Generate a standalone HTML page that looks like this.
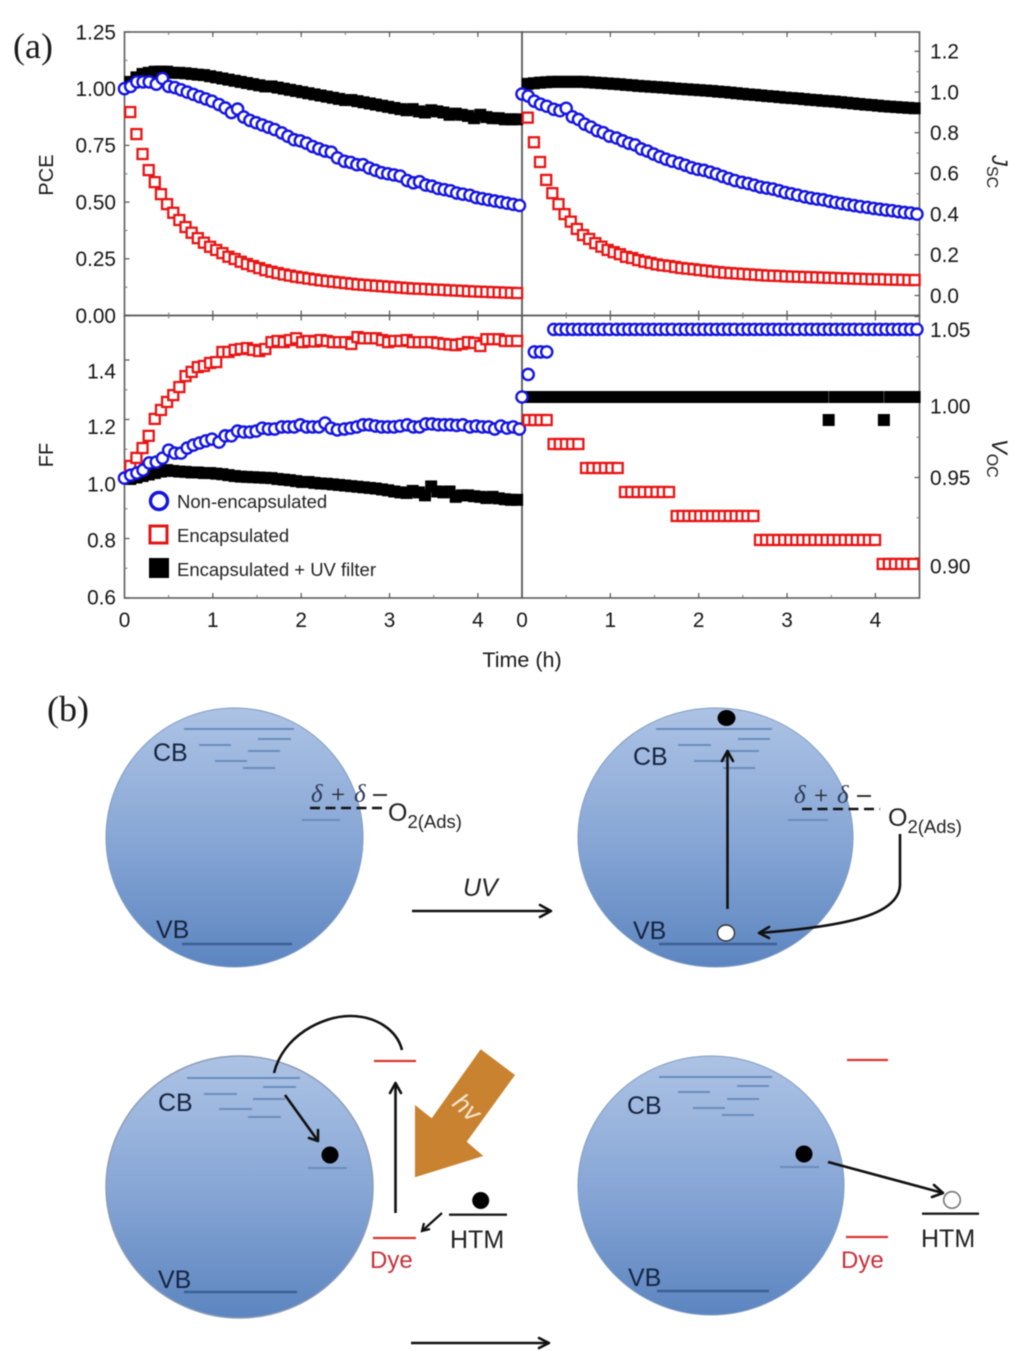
<!DOCTYPE html>
<html lang="en">
<head>
<meta charset="utf-8">
<title>Perovskite solar cell stability and UV degradation mechanism</title>
<style>
  html, body { margin: 0; padding: 0; background: #fff; }
  #figure { display: block; width: 1024px; height: 1359px; filter: blur(0.55px); font-family: "Liberation Sans", sans-serif; }
  .tick-label { font-size: 20.8px; fill: #161616; }
  .axis-title { font-size: 20px; fill: #1a1a1a; }
  .legend-text { font-size: 18.5px; fill: #222; }
  .band { font-size: 25px; fill: #16243f; }
  .delta { font-family: "Liberation Serif", serif; font-size: 25px; fill: #2a3a55; font-style: italic; }
  .sign { font-family: "Liberation Serif", serif; font-size: 25px; fill: #222; }
  .level { stroke: #6a8dbd; stroke-width: 2; }
  .vb-level { stroke: #3d5f95; stroke-width: 2.4; }
  .red-level { stroke: #d9352c; stroke-width: 2.2; }
  .htm-level { stroke: #1c1c1c; stroke-width: 2.4; }
  .arrow { stroke: #111; stroke-width: 2.6; fill: none; }
  .head { stroke: #111; stroke-width: 2.6; fill: none; stroke-linecap: round; stroke-linejoin: round; }
</style>
</head>
<body>
<svg id="figure" xmlns="http://www.w3.org/2000/svg" width="1024" height="1359" viewBox="0 0 1024 1359">
  <defs>
    <linearGradient id="sphere" x1="0" y1="0" x2="0" y2="1">
      <stop offset="0" stop-color="#adc3e5"/>
      <stop offset="0.5" stop-color="#88a7d6"/>
      <stop offset="1" stop-color="#5c85c0"/>
    </linearGradient>
  </defs>
  <rect x="0" y="0" width="1024" height="1359" fill="#fff"/>

  <text x="13" y="58" font-family="Liberation Serif, serif" font-size="36" fill="#1a1a1a">(a)</text>
  <g id="chart"></g>

  <text class="axis-title" transform="translate(53,175) rotate(-90)" text-anchor="middle">PCE</text>
  <text class="axis-title" transform="translate(53,455) rotate(-90)" text-anchor="middle">FF</text>
  <text transform="translate(992,155) rotate(90)" font-size="22" fill="#1a1a1a"><tspan font-style="italic">J</tspan><tspan font-size="16" dy="5">SC</tspan></text>
  <text transform="translate(992,439) rotate(90)" font-size="22" fill="#1a1a1a"><tspan font-style="italic">V</tspan><tspan font-size="16" dy="5">OC</tspan></text>
  <text x="522" y="667" font-size="21.5" fill="#1a1a1a" text-anchor="middle">Time (h)</text>

  <g>
    <circle cx="159" cy="501" r="8.5" fill="#fff" stroke="#1414e0" stroke-width="3.4"/>
    <text class="legend-text" x="177" y="508">Non-encapsulated</text>
    <rect x="150" y="526" width="17" height="17" fill="#fff" stroke="#e01818" stroke-width="3"/>
    <text class="legend-text" x="177" y="542">Encapsulated</text>
    <rect x="149" y="558" width="20" height="20" fill="#000"/>
    <text class="legend-text" x="177" y="576">Encapsulated + UV filter</text>
  </g>

  <text x="47" y="721" font-family="Liberation Serif, serif" font-size="36" fill="#1a1a1a">(b)</text>

  <g>
    <ellipse cx="234.5" cy="837.5" rx="128.5" ry="129.5" fill="url(#sphere)" stroke="#7f9cc4" stroke-width="1"/>
    <g>
      <line class="level" x1="184" x2="294" y1="729" y2="729"/><line class="level" x1="258" x2="291" y1="739" y2="739"/>
      <line class="level" x1="199" x2="231" y1="745" y2="745"/><line class="level" x1="248" x2="280" y1="751" y2="751"/>
      <line class="level" x1="215" x2="247" y1="761" y2="761"/><line class="level" x1="243" x2="275" y1="768" y2="768"/>
      <line class="level" x1="302" x2="340" y1="820" y2="820"/>
    </g>
    <line class="vb-level" x1="182" x2="292" y1="944" y2="944"/>
    <text class="band" x="153" y="761">CB</text>
    <text class="band" x="156" y="938">VB</text>
    <text class="delta" x="311" y="802">δ</text>
    <text class="sign" x="331" y="803">+</text>
    <text class="delta" x="354" y="802">δ</text>
    <line x1="373" x2="387" y1="795" y2="795" stroke="#222" stroke-width="1.8"/>
    <line x1="310" x2="382" y1="808" y2="808" stroke="#111" stroke-width="2.4" stroke-dasharray="10 5.5"/>
    <text x="388" y="821" font-size="25" fill="#222">O<tspan font-size="18.5" dy="7">2(Ads)</tspan></text>
  </g>

  <text x="463" y="896" font-size="25" font-style="italic" fill="#222">UV</text>
  <g>
    <line class="arrow" x1="412" x2="551" y1="911" y2="911"/>
    <path class="head" d="M540 905 L551 911 L540 917"/>
  </g>

  <g>
    <ellipse cx="715.5" cy="837.5" rx="137.5" ry="129.5" fill="url(#sphere)" stroke="#7f9cc4" stroke-width="1"/>
    <g>
      <line class="level" x1="656" x2="772" y1="729" y2="729"/><line class="level" x1="738" x2="770" y1="739" y2="739"/>
      <line class="level" x1="678" x2="711" y1="745" y2="745"/><line class="level" x1="727" x2="759" y1="751" y2="751"/>
      <line class="level" x1="694" x2="727" y1="761" y2="761"/><line class="level" x1="723" x2="755" y1="768" y2="768"/>
      <line class="level" x1="788" x2="828" y1="820" y2="820"/>
    </g>
    <line class="vb-level" x1="659" x2="777" y1="944" y2="944"/>
    <text class="band" x="633" y="765">CB</text>
    <text class="band" x="633" y="939">VB</text>
    <ellipse cx="726.5" cy="718" rx="9" ry="8" fill="#000"/>
    <ellipse cx="726" cy="933" rx="8.5" ry="8" fill="#fff" stroke="#333" stroke-width="1.4"/>
    <g>
      <line class="arrow" x1="727.5" x2="727.5" y1="909" y2="751"/>
      <path class="head" d="M722 761 L727.5 751 L733 761"/>
    </g>
    <g>
      <path class="arrow" d="M900 834 L900 885 C899 914 850 926 759 933"/>
      <path class="head" d="M769 927 L759 933 L769 938"/>
    </g>
    <text class="delta" x="794" y="803">δ</text>
    <text class="sign" x="814" y="804">+</text>
    <text class="delta" x="837" y="803">δ</text>
    <line x1="857" x2="871" y1="796" y2="796" stroke="#222" stroke-width="1.8"/>
    <line x1="802" x2="880" y1="809" y2="809" stroke="#111" stroke-width="2.4" stroke-dasharray="10 5.5"/>
    <text x="888" y="826" font-size="25" fill="#222">O<tspan font-size="18.5" dy="7">2(Ads)</tspan></text>
  </g>

  <g>
    <ellipse cx="239.5" cy="1187" rx="133.5" ry="131" fill="url(#sphere)" stroke="#8c9cb4" stroke-width="1.4"/>
    <g>
      <line class="level" x1="187" x2="300" y1="1078" y2="1078"/><line class="level" x1="263" x2="296" y1="1087" y2="1087"/>
      <line class="level" x1="204" x2="237" y1="1094" y2="1094"/><line class="level" x1="253" x2="285" y1="1099" y2="1099"/>
      <line class="level" x1="219" x2="252" y1="1109" y2="1109"/><line class="level" x1="248" x2="281" y1="1117" y2="1117"/>
      <line class="level" x1="308" x2="347" y1="1168" y2="1168"/>
    </g>
    <line class="vb-level" x1="184" x2="297" y1="1292" y2="1292"/>
    <text class="band" x="158" y="1111">CB</text>
    <text class="band" x="158" y="1288">VB</text>
    <circle cx="330" cy="1155" r="8.5" fill="#000"/>
    <g>
      <line class="arrow" x1="285" x2="318" y1="1095" y2="1141"/>
      <path class="head" d="M309 1138 L318 1141 L318 1130"/>
    </g>
    <path class="arrow" d="M274 1073 C283 1036 322 1016 350 1016 C376 1016 397 1030 402 1050"/>
    <line class="red-level" x1="374" x2="416" y1="1061" y2="1061"/>
    <line class="red-level" x1="373" x2="416" y1="1238" y2="1238"/>
    <g>
      <line class="arrow" x1="395.5" x2="395.5" y1="1213" y2="1083"/>
      <path class="head" d="M390 1093 L395.5 1083 L401 1093"/>
    </g>
    <polygon points="480.7,1049.3 515,1075 466.7,1141.7 483.3,1156 415,1177.3 415,1105 431.7,1118.3" fill="#c9822f"/>
    <text transform="translate(451,1105) rotate(42)" font-size="26" font-style="italic" fill="#f6e7cd">hv</text>
    <circle cx="480.7" cy="1200.5" r="8.5" fill="#000"/>
    <line class="htm-level" x1="449" x2="507" y1="1214.7" y2="1214.7"/>
    <text x="450" y="1248" font-size="25" fill="#222">HTM</text>
    <g>
      <line x1="442" x2="422" y1="1213" y2="1231" stroke="#111" stroke-width="2.2"/>
      <path d="M430 1229 L422 1231 L424 1223" stroke="#111" stroke-width="2.2" fill="none"/>
    </g>
    <text x="370" y="1268" font-size="24" fill="#c9303a">Dye</text>
  </g>

  <g>
    <line class="arrow" x1="411" x2="549" y1="1343" y2="1343"/>
    <path class="head" d="M539 1338 L549 1343 L539 1348"/>
  </g>

  <g>
    <ellipse cx="711" cy="1185.5" rx="133" ry="129.5" fill="url(#sphere)" stroke="#7f9cc4" stroke-width="1"/>
    <g>
      <line class="level" x1="659" x2="772" y1="1077" y2="1077"/><line class="level" x1="737" x2="769" y1="1086" y2="1086"/>
      <line class="level" x1="678" x2="710" y1="1092" y2="1092"/><line class="level" x1="727" x2="759" y1="1099" y2="1099"/>
      <line class="level" x1="693" x2="725" y1="1108" y2="1108"/><line class="level" x1="722" x2="754" y1="1115" y2="1115"/>
      <line class="level" x1="780" x2="819" y1="1167" y2="1167"/>
    </g>
    <line class="vb-level" x1="657" x2="769" y1="1291" y2="1291"/>
    <text class="band" x="627" y="1114">CB</text>
    <text class="band" x="628" y="1286">VB</text>
    <circle cx="804" cy="1154" r="8.5" fill="#000"/>
    <g>
      <line class="arrow" x1="828" x2="943" y1="1162" y2="1193"/>
      <path class="head" d="M934 1185 L943 1193 L932 1197"/>
    </g>
    <circle cx="952" cy="1200" r="8.3" fill="#fff" stroke="#777" stroke-width="1.6"/>
    <line class="htm-level" x1="922" x2="979" y1="1213.7" y2="1213.7"/>
    <text x="921" y="1247" font-size="25" fill="#222">HTM</text>
    <line class="red-level" x1="847" x2="888" y1="1060" y2="1060"/>
    <line class="red-level" x1="846" x2="888" y1="1237" y2="1237"/>
    <text x="841" y="1268" font-size="24" fill="#c9303a">Dye</text>
  </g>
</svg>

<script>
const blueHours = [0,.07,.14,.21,.28,.36,.43,.50,.57,.64,.71,.78,.85,.92,.99,1.07,1.14,1.21,1.28,1.35,1.42,1.49,1.56,1.63,1.70,1.78,1.85,1.92,1.99,2.06,2.13,2.20,2.27,2.34,2.41,2.49,2.56,2.63,2.70,2.77,2.84,2.91,2.98,3.05,3.12,3.20,3.27,3.34,3.41,3.48,3.55,3.62,3.69,3.76,3.83,3.91,3.98,4.05,4.12,4.19,4.26,4.33,4.40,4.47];
const filmHours = [.065,.135,.204,.274,.343,.413,.482,.552,.621,.691,.76,.83,.899,.969,1.038,1.108,1.177,1.247,1.316,1.386,1.455,1.525,1.594,1.664,1.733,1.803,1.872,1.942,2.011,2.081,2.15,2.22,2.289,2.359,2.428,2.498,2.567,2.637,2.706,2.776,2.845,2.915,2.984,3.054,3.123,3.193,3.262,3.332,3.401,3.471,3.54,3.61,3.679,3.749,3.818,3.888,3.957,4.027,4.096,4.166,4.235,4.305,4.374,4.444];
const vocFilmHours = [.072,.141,.21,.279,.358,.428,.498,.568,.638,.725,.797,.868,.94,1.011,1.083,1.166,1.237,1.308,1.379,1.451,1.522,1.593,1.664,1.751,1.818,1.885,1.951,2.018,2.085,2.152,2.218,2.285,2.352,2.419,2.485,2.552,2.619,2.694,2.763,2.831,2.9,2.968,3.037,3.105,3.174,3.242,3.311,3.379,3.448,3.516,3.585,3.653,3.722,3.79,3.859,3.927,3.996,4.083,4.152,4.222,4.291,4.361,4.43];

const pceNonEncapsulated = [1.00,1.01,1.03,1.03,1.03,1.02,1.045,1.01,1.005,.995,.985,.975,.965,.955,.945,.93,.915,.895,.91,.875,.86,.85,.84,.83,.82,.805,.79,.775,.77,.76,.745,.735,.725,.72,.695,.68,.675,.665,.665,.65,.64,.63,.625,.62,.615,.595,.585,.59,.575,.57,.56,.555,.55,.54,.535,.53,.52,.515,.51,.505,.50,.495,.49,.485];
const pceEncapsulated = [.897,.80,.712,.641,.588,.535,.491,.453,.421,.39,.365,.341,.321,.303,.289,.275,.259,.249,.237,.227,.218,.209,.20,.193,.187,.181,.176,.171,.167,.163,.159,.155,.152,.149,.146,.143,.14,.137,.135,.133,.131,.129,.127,.125,.123,.121,.119,.118,.117,.115,.114,.113,.111,.11,.109,.107,.106,.105,.104,.103,.102,.101,.10,.099];
const pceUvFilter = [1.03,1.05,1.065,1.07,1.075,1.075,1.075,1.07,1.07,1.068,1.065,1.062,1.06,1.055,1.05,1.045,1.04,1.035,1.03,1.025,1.02,1.015,1.01,1.01,1.005,1.00,.995,.99,.985,.98,.975,.97,.965,.96,.955,.95,.95,.945,.94,.935,.93,.925,.92,.915,.91,.905,.91,.90,.895,.905,.90,.895,.885,.89,.885,.88,.87,.885,.875,.87,.87,.865,.865,.865];

const jscNonEncapsulated = [.99,.98,.955,.94,.93,.915,.908,.92,.878,.865,.842,.828,.81,.80,.783,.774,.76,.748,.74,.72,.71,.695,.682,.67,.66,.65,.64,.628,.62,.615,.606,.597,.585,.575,.565,.556,.55,.542,.533,.528,.523,.515,.506,.50,.493,.485,.479,.474,.47,.463,.457,.452,.447,.442,.437,.433,.428,.424,.42,.417,.412,.408,.405,.40];
const jscEncapsulated = [.874,.753,.656,.568,.503,.449,.40,.363,.327,.297,.278,.257,.24,.224,.213,.203,.19,.184,.174,.166,.16,.153,.148,.145,.14,.135,.132,.129,.125,.122,.118,.115,.112,.11,.108,.106,.104,.102,.10,.098,.097,.096,.094,.093,.092,.091,.09,.089,.088,.087,.086,.085,.084,.083,.082,.081,.08,.08,.079,.078,.078,.077,.076,.076];
const jscUvFilter = [1.04,1.043,1.046,1.048,1.05,1.05,1.05,1.05,1.05,1.05,1.048,1.046,1.044,1.042,1.04,1.038,1.035,1.033,1.03,1.028,1.026,1.024,1.022,1.02,1.017,1.015,1.013,1.011,1.009,1.007,1.005,1.002,1.0,.997,.994,.991,.988,.986,.983,.98,.978,.975,.972,.97,.968,.965,.962,.96,.957,.955,.953,.95,.947,.944,.941,.938,.936,.933,.93,.928,.926,.924,.922,.92];

const ffNonEncapsulated = [1.003,1.013,1.02,1.03,1.054,1.057,1.07,1.097,1.087,1.087,1.104,1.114,1.121,1.128,1.134,1.124,1.145,1.145,1.161,1.158,1.158,1.161,1.171,1.168,1.168,1.175,1.175,1.175,1.182,1.175,1.175,1.175,1.188,1.171,1.165,1.168,1.171,1.175,1.182,1.182,1.178,1.175,1.175,1.175,1.178,1.182,1.175,1.175,1.185,1.185,1.182,1.182,1.182,1.18,1.182,1.175,1.178,1.175,1.175,1.168,1.178,1.171,1.175,1.168];
const ffEncapsulated = [1.044,1.071,1.104,1.145,1.202,1.232,1.259,1.282,1.309,1.346,1.36,1.376,1.38,1.39,1.393,1.427,1.427,1.434,1.437,1.44,1.434,1.43,1.437,1.46,1.464,1.46,1.467,1.473,1.46,1.464,1.462,1.467,1.464,1.46,1.46,1.46,1.454,1.477,1.473,1.473,1.473,1.467,1.46,1.464,1.464,1.467,1.46,1.46,1.46,1.46,1.457,1.454,1.452,1.45,1.454,1.46,1.457,1.447,1.47,1.47,1.47,1.464,1.464,1.464];
const ffUvFilter = [1.0,1.005,1.01,1.015,1.02,1.025,1.03,1.027,1.025,1.024,1.022,1.022,1.02,1.02,1.018,1.016,1.013,1.01,1.008,1.007,1.006,1.005,1.004,1.003,1.0,.998,.996,.993,.99,.99,.987,.985,.984,.982,.98,.978,.976,.974,.972,.97,.968,.965,.962,.958,.955,.953,.96,.955,.945,.975,.958,.955,.958,.94,.945,.945,.942,.94,.936,.94,.935,.932,.93,.93];

const vocNonEncapsulated = [1.0,1.014,1.028,1.028,1.028,1.042,1.042,1.042,1.042,1.042,1.042,1.042,1.042,1.042,1.042,1.042,1.042,1.042,1.042,1.042,1.042,1.042,1.042,1.042,1.042,1.042,1.042,1.042,1.042,1.042,1.042,1.042,1.042,1.042,1.042,1.042,1.042,1.042,1.042,1.042,1.042,1.042,1.042,1.042,1.042,1.042,1.042,1.042,1.042,1.042,1.042,1.042,1.042,1.042,1.042,1.042,1.042,1.042,1.042,1.042,1.042,1.042,1.042,1.042];
const vocEncapsulated = [.9857,.9857,.9857,.9857,.9708,.9708,.9708,.9708,.9708,.9559,.9559,.9559,.9559,.9559,.9559,.941,.941,.941,.941,.941,.941,.941,.941,.9261,.9261,.9261,.9261,.9261,.9261,.9261,.9261,.9261,.9261,.9261,.9261,.9261,.9261,.9112,.9112,.9112,.9112,.9112,.9112,.9112,.9112,.9112,.9112,.9112,.9112,.9112,.9112,.9112,.9112,.9112,.9112,.9112,.9112,.8963,.8963,.8963,.8963,.8963,.8963];
const vocUvFilter = [1,1,1,1,1,1,1,1,1,1,1,1,1,1,1,1,1,1,1,1,1,1,1,1,1,1,1,1,1,1,1,1,1,1,1,1,1,1,1,1,1,1,1,1,1,1,1,1,1,.9857,1,1,1,1,1,1,1,1,.9857,1,1,1,1,1];

const xTickValues = [0,1,2,3,4];
const xTickLabels = ['0','1','2','3','4'];
const xMinorValues = [.5,1.5,2.5,3.5];
const pceTickValues = [0,.25,.5,.75,1,1.25];
const pceTickLabels = ['0.00','0.25','0.50','0.75','1.00','1.25'];
const jscTickValues = [0,.2,.4,.6,.8,1,1.2];
const jscTickLabels = ['0.0','0.2','0.4','0.6','0.8','1.0','1.2'];
const ffTickValues = [.6,.8,1,1.2,1.4];
const ffTickLabels = ['0.6','0.8','1.0','1.2','1.4'];
const ffLabelNudge = [-1,1.5,5,7,11];
const vocTickValues = [1.05,1,.95,.9];
const vocTickLabels = ['1.05','1.00','0.95','0.90'];
const vocLabelNudge = [13,9,0,8];

const xLeft = t => 124.5 + 88.35 * t;
const xRight = t => 522 + 88.35 * t;
const yPce = v => 315.5 - 226.8 * v;
const yJsc = v => 295.5 - 203.5 * v;
const yFf = v => 598 - 297.5 * (v - 0.6);
const yVoc = v => 397 - 1610 * (v - 1);

const SVGNS = 'http://www.w3.org/2000/svg';
const chart = document.getElementById('chart');

function shape(tag, attrs, parent) {
  const el = document.createElementNS(SVGNS, tag);
  for (const k in attrs) el.setAttribute(k, attrs[k]);
  parent.appendChild(el);
  return el;
}

function drawFrame(x0, x1, y0, y1, panelName) {
  const el = shape('rect', { x: x0, y: y0, width: x1 - x0, height: y1 - y0, fill: 'none', stroke: '#5c5c5c', 'stroke-width': 1.6 }, chart);
  
  
}

function drawXTicks(xFn, y0, y1, panelName, withLabels) {
  const g = shape('g', {}, chart);
  
  
  xTickValues.forEach((v, i) => {
    if (v > 0) {
      shape('line', { x1: xFn(v), x2: xFn(v), y1: y0, y2: y0 + 5, stroke: '#555', 'stroke-width': 1.2 }, g);
      shape('line', { x1: xFn(v), x2: xFn(v), y1: y1, y2: y1 - 5, stroke: '#555', 'stroke-width': 1.2 }, g);
    }
    if (withLabels) {
      const t = shape('text', { x: xFn(v), y: 627, 'text-anchor': 'middle', class: 'tick-label' }, g);
      t.textContent = xTickLabels[i];
      
      
    }
  });
  xMinorValues.forEach(v => {
    shape('line', { x1: xFn(v), x2: xFn(v), y1: y0, y2: y0 + 3, stroke: '#777', 'stroke-width': 1 }, g);
    shape('line', { x1: xFn(v), x2: xFn(v), y1: y1, y2: y1 - 3, stroke: '#777', 'stroke-width': 1 }, g);
  });
}

function drawYTicks(values, labels, yFn, edgeX, dir, labelX, anchor, nudges, panelName) {
  const g = shape('g', {}, chart);
  
  
  values.forEach((v, i) => {
    const y = yFn(v);
    shape('line', { x1: edgeX, x2: edgeX + dir * 5, y1: y, y2: y, stroke: '#555', 'stroke-width': 1.2 }, g);
    if (i < values.length - 1) {
      const m = yFn((v + values[i + 1]) / 2);
      shape('line', { x1: edgeX, x2: edgeX + dir * 3, y1: m, y2: m, stroke: '#777', 'stroke-width': 1 }, g);
    }
    const t = shape('text', { x: labelX, y: y + (nudges ? nudges[i] : 0) + 7.3, 'text-anchor': anchor, class: 'tick-label' }, g);
    t.textContent = labels[i];
    
    
  });
}

function drawBlack(values, xFn, yFn, panelName) {
  const g = shape('g', {}, chart);
  
  
  values.forEach((v, i) => {
    const el = shape('rect', { x: xFn(filmHours[i]) - 6, y: yFn(v) - 6, width: 12, height: 12, fill: '#000' }, g);
    
    
  });
}

function drawRed(values, hours, xFn, yFn, panelName) {
  const g = shape('g', {}, chart);
  
  
  values.forEach((v, i) => {
    const el = shape('rect', { x: xFn(hours[i]) - 5, y: yFn(v) - 5, width: 10, height: 10, fill: '#fff', stroke: '#e81414', 'stroke-width': 2.3 }, g);
    
    
  });
}

function drawBlue(values, xFn, yFn, panelName) {
  const g = shape('g', {}, chart);
  
  
  values.forEach((v, i) => {
    const el = shape('circle', { cx: xFn(blueHours[i]), cy: yFn(v), r: 5.6, fill: '#fff', stroke: '#1414e0', 'stroke-width': 2.4 }, g);
    
    
  });
}

drawFrame(124.5, 522, 32, 315.5, 'pce');
drawFrame(522, 919.5, 32, 315.5, 'jsc');
drawFrame(124.5, 522, 315.5, 598, 'ff');
drawFrame(522, 919.5, 315.5, 598, 'voc');

drawXTicks(xLeft, 32, 315.5, 'pce', false);
drawXTicks(xRight, 32, 315.5, 'jsc', false);
drawXTicks(xLeft, 315.5, 598, 'ff', true);
drawXTicks(xRight, 315.5, 598, 'voc', true);

drawYTicks(pceTickValues, pceTickLabels, yPce, 124.5, 1, 116, 'end', null, 'pce');
drawYTicks(jscTickValues, jscTickLabels, yJsc, 919.5, -1, 930, 'start', null, 'jsc');
drawYTicks(ffTickValues, ffTickLabels, yFf, 124.5, 1, 116, 'end', ffLabelNudge, 'ff');
drawYTicks(vocTickValues, vocTickLabels, yVoc, 919.5, -1, 930, 'start', vocLabelNudge, 'voc');

drawBlack(pceUvFilter, xLeft, yPce, 'pce');
drawRed(pceEncapsulated, filmHours, xLeft, yPce, 'pce');
drawBlue(pceNonEncapsulated, xLeft, yPce, 'pce');

drawBlack(ffUvFilter, xLeft, yFf, 'ff');
drawRed(ffEncapsulated, filmHours, xLeft, yFf, 'ff');
drawBlue(ffNonEncapsulated, xLeft, yFf, 'ff');

drawBlack(jscUvFilter, xRight, yJsc, 'jsc');
drawRed(jscEncapsulated, filmHours, xRight, yJsc, 'jsc');
drawBlue(jscNonEncapsulated, xRight, yJsc, 'jsc');

drawBlack(vocUvFilter, xRight, yVoc, 'voc');
drawRed(vocEncapsulated, vocFilmHours, xRight, yVoc, 'voc');
drawBlue(vocNonEncapsulated, xRight, yVoc, 'voc');
</script>
</body>
</html>
